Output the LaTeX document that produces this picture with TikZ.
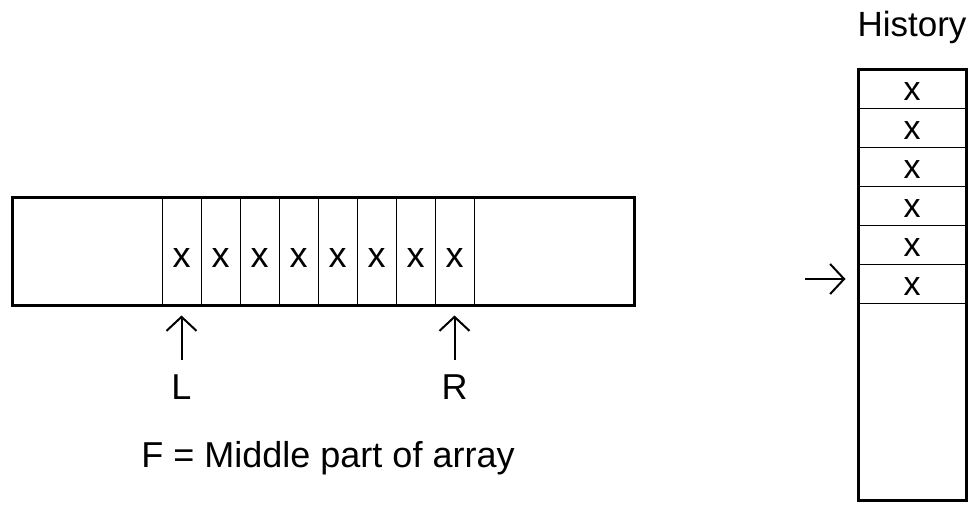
\documentclass[tikz,border=0pt]{standalone}
\usepackage{fontspec}
\setmainfont{Liberation Sans}
\usetikzlibrary{arrows.meta}

\begin{document}
\begin{tikzpicture}[x=1pt,y=-1pt,
	cell/.style={draw,line width=1pt,minimum width=39pt,minimum height=108pt,inner sep=0pt,font=\fontsize{36}{40}\selectfont,text height=32pt,text depth=0pt},
	slot/.style={draw,line width=1pt,minimum width=108pt,minimum height=39pt,inner sep=0pt,font=\fontsize{34}{38}\selectfont,text height=23pt,text depth=0pt},
	frame/.style={draw,line width=3pt,inner sep=0pt},
	ptr/.style={line width=2pt,-{Straight Barb[length=14pt,width=30pt,line width=2pt]}},
	lbl/.style={font=\fontsize{36}{40}\selectfont,inner sep=0pt}]
	\useasboundingbox (0,0) rectangle (971,506);
	% array with the middle part F
	\foreach \i in {1,...,8}
		\node [cell] (c\i) at (142.5+39*\i,251) {x};
	\node [frame,minimum width=622pt,minimum height=108pt] (arr) at (323,251) {};
	\node [lbl,anchor=base] (lblL) at (181.5,399) {L};
	\node [lbl,anchor=base] (lblR) at (454.5,399) {R};
	\draw [ptr,shorten <=14pt,shorten >=10pt] (lblL.north) -- (c1.south);
	\draw [ptr,shorten <=14pt,shorten >=10pt] (lblR.north) -- (c8.south);
	\node [lbl,anchor=base] (note) at (328,467) {F = Middle part of array};
	% history stack
	\foreach \j in {1,...,6}
		\node [slot] (h\j) at (912,49.5+39*\j) {x};
	\node [frame,minimum width=108pt,minimum height=431pt] (hist) at (912,284.5) {};
	\node [lbl,anchor=base,font=\fontsize{35}{40}\selectfont] (title) at (912,36) {History};
	\coordinate (top) at (805,279);
	\draw [ptr,shorten >=11pt] (top) -- (top -| hist.west);
\end{tikzpicture}
\end{document}
